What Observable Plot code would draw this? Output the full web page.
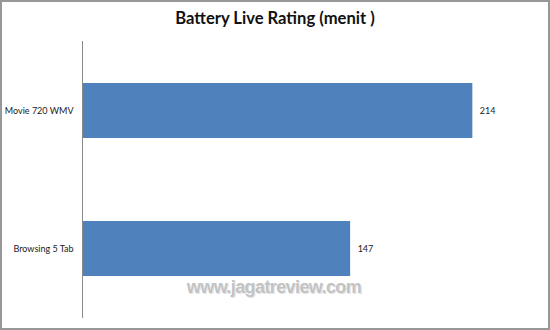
<!DOCTYPE html>
<html>
<head>
<meta charset="utf-8">
<script src="https://cdn.jsdelivr.net/npm/d3@7"></script>
<script src="https://cdn.jsdelivr.net/npm/@observablehq/plot@0.6"></script>
<style>
  html, body { margin: 0; padding: 0; background: #fff; }
  #wrap { position: relative; width: 550px; height: 330px; overflow: hidden; background: #fff; }
  #border { position: absolute; left: 0; top: 0; width: 550px; height: 330px; box-sizing: border-box; border: 2px solid #979797; pointer-events: none; }
  #title { position: absolute; left: 0; width: 550px; top: 7px; text-align: center; font-family: Lato, "Open Sans", sans-serif; font-weight: bold; font-size: 16.6px; line-height: 22px; color: #111; }
  #watermark { position: absolute; left: 0; width: 548px; top: 276px; text-align: center; font-family: "Liberation Sans", Arial, sans-serif; font-weight: bold; font-size: 18px; line-height: 22px; color: #c2c2c2; letter-spacing: -0.6px; text-shadow: 0 0 1px #fff, 1px 1px 0 #e0e0e0; }
  #chart { position: absolute; left: 0; top: 0; }
</style>
</head>
<body>
<div id="wrap">
  <div id="chart"></div>
  <div id="title"></div>
  <div id="watermark"></div>
  <div id="border"></div>
</div>
<script>
const chartTitle = "Battery Live Rating (menit )";
const watermarkText = "www.jagatreview.com";
const categories = ["Movie 720 WMV", "Browsing 5 Tab"];
const values = [214, 147];

const data = categories.map((c, i) => ({category: c, value: values[i]}));

document.getElementById("title").textContent = chartTitle;
document.getElementById("watermark").textContent = watermarkText;

const plot = Plot.plot({
  width: 550,
  height: 330,
  marginLeft: 82,
  marginRight: 12,
  marginTop: 41,
  marginBottom: 12,
  style: {fontFamily: "Lato, 'Open Sans', sans-serif", fontSize: "9px", color: "#1a1a1a", background: "transparent"},
  x: {domain: [0, 250], axis: null},
  y: {domain: categories, axis: null, paddingInner: 0.6, paddingOuter: 0.3},
  marks: [
    Plot.barX(data, {x: "value", y: "category", fill: "#4F81BD"}),
    Plot.ruleX([0], {stroke: "#8a8a8a", strokeWidth: 1}),
    Plot.text(data, {x: "value", y: "category", text: d => String(d.value), textAnchor: "start", dx: 7, fill: "#1a1a1a"}),
    Plot.text(data, {x: 0, y: "category", text: "category", textAnchor: "end", dx: -9, fill: "#1a1a1a"})
  ]
});
document.getElementById("chart").appendChild(plot);
</script>
</body>
</html>
